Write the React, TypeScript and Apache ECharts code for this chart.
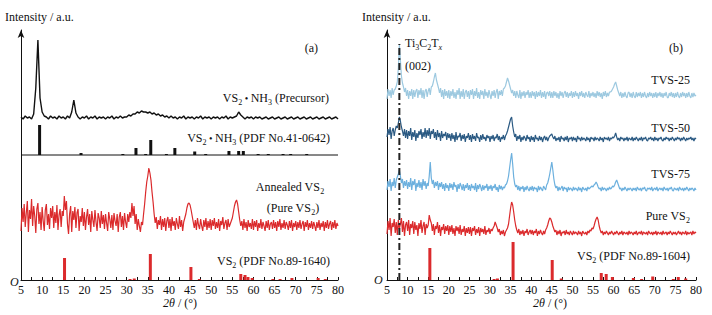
import React, { useEffect, useRef } from "react";
import * as echarts from "echarts";

// ---- data (intensity in a.u., relative to each trace's own baseline) ----
const X_START = 5;
const PRE_STEP = 0.5; // sampling of the precursor trace (2θ, °)
const STEP = 0.25; // sampling of the other traces (2θ, °)
const X_TICKS = [5, 80, 5]; // min, max, interval

// Panel (a)
const PRECURSOR = [
  1, -1, 2, 0, 1, -1, 4, 30, 78, 20,
  6, 2, 1, -1, 2, 0, 1, -1, 2, 0,
  1, -1, 2, 0, 6, 18, 5, 1, -1, 1,
  0, 2, -1, 1, 0, 2, -1, 1, 0, 1,
  -1, 1, 0, 2, -1, 1, 0, 2, 0, 1,
  1, 3, 2, 4, 4, 6, 5, 7, 6, 6,
  5, 6, 4, 5, 3, 4, 2, 3, 1, 2,
  0, 2, 0, 1, -1, 1, 0, 2, -1, 1,
  0, 1, -1, 1, 0, 2, -1, 1, 0, 1,
  -1, 1, 0, 1, -1, 1, 0, 2, -1, 1,
  0, 1, 2, 6, 3, 1, -1, 1, 0, 1,
  -1, 1, 0, 1, -1, 0, 1, -1, 0, 1,
  -1, 0, 1, -1, 0, 1, -1, 0, 1, -1,
  0, 1, -1, 0, 1, -1, 0, 1, -1, 0,
  1, -1, 0, 1, -1, 0, 1, -1, 0, 1,
  -1,
];
const ANNEALED = [
  -3, 20, 6, 24, 1, 15, 27, -4, 18, 9, 29, 2, 22, 12, -5, 19, 25, 4, 16, -2,
  21, 7, -3, 18, 24, 3, 14, -1, 20, 10, 22, 0, 16, 5, 23, -2, 13, 19, 1, 17,
  12, 32, 18, 27, 4, -6, 14, 22, -4, 17, 8, 21, 0, 15, 19, -3, 12, 6, 20, 2,
  16, -2, 11, 19, 3, 14, -4, 17, 8, 1, 18, 6, -3, 15, 10, 0, 17, 4, 13, -1,
  14, 5, -3, 16, 9, 0, 13, -2, 15, 7, 2, 14, -4, 11, 16, 1, 12, -2, 15, 6,
  0, 14, 6, 16, 10, 25, 12, 22, 4, 14, -2, 9, 2, -4, 6, 3, 14, 24, 36, 46,
  52, 60, 55, 48, 36, 26, 14, 5, 11, -1, 8, 3, 12, -2, 9, 1, 10, -3, 7, 11,
  0, 9, -3, 11, 2, 7, -2, 10, 4, -1, 12, 1, 8, -3, 6, 10, 14, 20, 24, 25,
  23, 18, 12, 6, 0, 8, -2, 10, 3, -1, 9, 2, -3, 8, 1, 10, -2, 7, 0, 9,
  -2, 8, 2, 10, -1, 6, 0, 9, -3, 7, 3, 11, -1, 5, 8, -2, 9, 1, 4, 7,
  10, 16, 22, 26, 28, 24, 16, 8, 2, 7, -2, 9, 0, 6, -3, 8, 1, 5, -1, 9,
  -2, 7, 1, 8, -3, 5, 0, 9, -1, 6, 2, -3, 7, 0, 8, -2, 4, 6, -1, 8,
  0, 6, -3, 7, 1, 9, -2, 5, 0, 8, -1, 6, 3, -2, 7, 0, 8, -3, 5, 1,
  7, -2, 6, 0, 8, -1, 4, 7, -3, 6, 1, 8, -2, 5, 0, 7, -1, 6, 2, -3,
  6, 0, 8, -2, 5, 1, 7, -3, 6, 0, 8, -1, 4, 7, -2, 6, 0, 8, -1, 5,
  2,
];
// [2θ, relative intensity]
const PDF_41_0642 = [
  [9.4, 30], [19.2, 2], [29.1, 1], [32.2, 7], [34.5, 1], [35.7, 15], [39.4, 1],
  [41.4, 7], [46.1, 3.5], [48.7, 1], [54.2, 4], [56.5, 4], [57.6, 4], [61.1, 1],
  [63.5, 1], [67, 1], [68.8, 1], [72.6, 1],
];
const PDF_89_1640 = [
  [15.3, 22], [30.8, 1], [31.8, 1.5], [35.6, 26], [45.2, 13], [47.2, 1], [57.0, 6],
  [58.0, 5], [58.7, 3], [59.7, 2], [64.6, 1], [66.3, 1], [69.1, 2], [75.3, 2], [77.0, 1],
];

// Panel (b)
const TVS25 = [
  -3, 7, 0, 6, -2, 8, 1, 6, 7, 10, 14, 28, 51, 36, 20, 13, 9, 4, 8, 0,
  6, -3, 5, 0, 7, -3, 6, -1, 5, 7, -2, 6, 1, 8, -2, 6, -3, 5, 7, -1,
  5, 8, 1, 9, 10, 14, 19, 23, 16, 12, 8, 3, 8, -1, 6, -3, 7, 0, 5, -2,
  6, -3, 5, 0, 7, -2, 4, -3, 6, 1, 8, -3, 5, -1, 7, -3, 4, 6, -1, 5,
  -3, 6, 1, 7, -3, 5, 0, 8, -2, 4, -3, 6, 1, 5, -3, 7, 0, 4, -2, 6,
  1, -3, 5, 0, 6, -2, 4, 7, -3, 5, 1, 6, 0, 7, 8, 10, 14, 18, 15, 11,
  7, 3, 6, 0, 5, -2, 5, 1, -2, 6, -3, 4, 0, 5, -2, 4, 1, 6, -2, 4,
  -2, 5, 0, 4, -3, 5, -1, 4, 0, 6, -2, 4, -1, 5, -3, 3, 4, 0, 5, -2,
  4, -2, 5, 0, 4, -2, 3, -3, 5, 0, 4, -2, 3, 5, -1, 4, -2, 3, 0, 5,
  -2, 4, -1, 5, 0, 3, -3, 4, 0, 5, -1, 3, -2, 4, 1, -1, 5, -2, 3, 0,
  4, -1, 3, -2, 5, 0, 4, -1, 3, -3, 4, 0, 5, -1, 3, 0, 4, 4, 5, 7,
  9, 12, 14, 10, 6, 3, 0, 4, -2, 3, -1, 4, 0, -2, 3, 4, -1, 3, -2, 4,
  0, -2, 4, -1, 3, 0, 4, -2, 3, -1, 4, 0, -2, 3, -1, 4, 0, 3, -2, 3,
  -1, 4, -2, 3, 0, 4, -1, 3, -2, 3, 0, 4, -1, -2, 3, 0, 4, -1, 3, -2,
  3, -1, 4, 0, -2, 3, -1, 4, 0, 3, -2, 3, -1, 4, 0, -2, 3, -1, 3, 0,
  1,
];
const TVS50 = [
  3, 11, 5, 13, 1, 9, 12, 4, 10, 14, 12, 17, 23, 19, 13, 9, 4, 11, 2, 10,
  1, 9, 4, 12, 0, 8, 3, 10, -1, 7, 2, 9, 5, 11, 1, 8, 3, 12, 2, 10,
  4, 12, 1, 9, 6, 11, 2, 8, 0, 10, 3, 7, -1, 9, 2, 6, 4, 8, 0, 7,
  2, 6, -1, 7, 1, 5, -2, 8, 0, 4, 3, 7, -1, 5, 1, 6, -2, 4, 2, 7,
  0, 5, -2, 6, 1, 4, -1, 7, 2, 3, -2, 5, 0, 6, 1, 3, -1, 5, 2, 4,
  -2, 4, 1, 5, -1, 3, 2, 6, 0, 4, -2, 3, 1, 5, 0, 4, 6, 9, 13, 17,
  21, 23, 14, 8, 3, 6, -1, 4, 1, 5, -2, 3, 0, 4, 2, -1, 5, 1, 3, -2,
  4, 0, 3, -2, 5, 1, 2, -1, 4, 0, 3, -2, 2, 4, 0, 3, -1, 2, 4, 5,
  6, 3, 1, 4, -1, 2, 0, 3, -2, 4, 1, 2, -1, 3, 0, 4, -2, 2, 1, 3,
  -1, 3, 0, 2, -2, 4, 1, 2, -1, 3, 0, 2, 1, -1, 3, 0, 2, -2, 3, 1,
  2, -1, 3, 0, 2, 1, -1, 3, 0, 2, -2, 3, 1, 2, 0, 3, -1, 2, 1, 3,
  2, 4, 7, 3, 0, 2, -1, 3, 1, 2, -1, 2, 0, 3, -1, 2, 1, 0, 3, -1,
  2, 0, 3, 1, -1, 2, 0, 3, -1, 2, 1, 3, 0, -1, 2, 1, 3, 0, 2, -1,
  3, 0, 2, -1, 2, 1, 3, 0, -1, 2, 0, 3, 1, 2, -1, 2, 0, 3, 1, -1,
  2, 0, 3, 1, 2, -1, 2, 0, 3, 1, -1, 2, 0, 2, 1, 3, 0, 2, -1, 2,
  1,
];
const TVS75 = [
  0, 9, 3, 11, -1, 8, 4, 12, 2, 10, 13, 16, 20, 14, 7, 11, 2, 9, 4, 10,
  1, 8, 3, 12, 0, 9, 5, 11, -1, 7, 3, 10, 2, 8, 0, 11, 4, 9, 1, 7,
  4, 14, 28, 12, 6, 10, 2, 8, 4, 9, 0, 7, 3, 8, 1, 6, -1, 7, 2, 5,
  -1, 7, 2, 6, 0, 8, 3, 5, -2, 6, 1, 7, 4, 0, 6, -1, 5, 2, 7, 0,
  5, -1, 6, 2, 4, 0, 7, -2, 5, 1, 6, 3, -1, 5, 0, 4, 2, 6, -1, 4,
  1, 5, -1, 4, 2, 6, 0, 3, -2, 5, 1, 4, 0, 3, 2, 5, 6, 9, 14, 22,
  30, 37, 26, 13, 6, 3, 5, 0, 4, -1, 3, 1, 4, -2, 3, 0, 4, 1, -1, 3,
  0, 4, -1, 3, 1, 2, -2, 4, 0, 3, 1, -1, 4, 2, 0, 5, 7, 11, 16, 22,
  28, 20, 11, 5, 2, 4, -1, 3, 0, 2, 4, -1, 3, 1, 2, -2, 3, 0, 2, 1,
  -1, 3, 0, 2, 1, -1, 3, 0, 2, -2, 3, 1, 0, 2, -1, 3, 1, 2, 3, 4,
  3, 5, 6, 8, 6, 3, 1, 2, -1, 3, 0, 2, 1, -1, 2, 0, 3, 1, 2, 4,
  3, 5, 8, 10, 7, 4, 1, 2, -1, 2, 0, 3, 1, -1, 2, 0, 2, 1, -1, 2,
  0, 2, -1, 3, 1, 0, 2, -1, 2, 1, 3, 0, -1, 2, 1, 2, 0, 3, -1, 1,
  2, 0, 3, -1, 1, 2, 0, 2, -1, 3, 1, 0, 2, -1, 2, 1, 3, 0, -1, 2,
  1, 0, 2, -1, 3, 1, 0, 2, -1, 2, 0, 3, 1, -1, 2, 0, 2, 1, -1, 2,
  0,
];
const PURE_VS2 = [
  0, 13, 4, 16, -2, 11, 7, 15, 1, 12, -1, 14, 5, 10, 16, 2, 13, -2, 9, 12,
  3, 14, -1, 10, 6, 13, 0, 12, 4, 9, -2, 11, 5, 14, 1, 8, 12, -1, 10, 6,
  9, 19, 14, 11, 3, 10, -1, 8, 5, 12, 1, 9, -2, 7, 4, 10, 0, 8, 3, 9,
  -1, 8, 2, 9, 0, 6, -2, 8, 3, 7, 0, 9, -1, 5, 2, 8, -2, 6, 1, 7,
  0, 7, -2, 6, 3, 8, -1, 5, 1, 7, -2, 6, 2, 5, 0, 8, -1, 4, 2, 6,
  0, 5, 3, 6, 8, 12, 9, 6, 2, 5, -1, 3, 0, 4, -2, 2, 4, 6, 10, 18,
  26, 32, 29, 22, 14, 8, 4, 1, 5, -1, 3, 0, 4, -2, 3, 1, 5, -1, 2, 4,
  0, 4, -1, 3, 1, 5, -2, 3, 0, 4, 1, -1, 3, 0, 4, 6, 9, 13, 16, 15,
  12, 8, 5, 2, 4, -1, 3, 0, 4, -2, 2, 1, 3, -1, 4, 0, 2, -1, 3, 1,
  -1, 3, 0, 2, 1, -1, 3, 0, 2, -2, 3, 1, 0, 2, -1, 3, 1, 4, 3, 6,
  5, 8, 12, 15, 17, 14, 8, 4, 1, 3, -1, 2, 0, 3, 1, -1, 2, 0, 3, 1,
  -1, 2, 0, 3, 1, -1, 2, 0, 3, -1, 2, 1, 0, 2, -1, 3, 0, 2, 1, -1,
  2, 0, 3, -1, 1, 2, 0, 3, -1, 2, 1, 0, 2, -1, 3, 1, 0, 2, -1, 2,
  0, 3, -1, 2, 1, 0, 2, -1, 3, 0, 1, 2, -1, 2, 0, 3, 1, -1, 2, 0,
  2, -1, 1, 3, 0, 2, -1, 2, 1, 0, 3, -1, 2, 0, 1, 2, -1, 3, 0, 2,
  1,
];
const PDF_89_1604 = [
  [15.4, 32], [31.0, 1], [31.8, 1.5], [35.6, 38], [45.1, 20], [47.3, 1.5], [57.0, 7],
  [58.2, 6], [59.7, 3], [64.8, 2], [66.8, 1], [69.5, 3.5], [74.5, 1], [75.7, 3], [77.5, 1.5],
];
const TI3C2TX_002 = 8; // 2θ of Ti3C2Tx (002)

// vertical stacking offsets (a.u.)
const OFF_A = { precursor: 162, pdfBlack: 125, annealed: 52, pdfRed: 0 };
const OFF_B = { tvs25: 184, tvs50: 140, tvs75: 90, pure: 46, pdf: 0, markTop: 236 };

const FONT = "Liberation Serif, Times New Roman, serif";
const RED = "#db2a2c";
const BLACK = "#111111";
const C25 = "#9dc9e0";
const C50 = "#2b5a83";
const C75 = "#6cb0de";

// ---- text with sub-scripts, laid out piece by piece ----
const SIZE: Record<string, number> = { n: 12, i: 12, s: 8, si: 8, d: 10 };
const DY: Record<string, number> = { n: 0, i: 0, s: 4, si: 4, d: 0 };
const ITALIC: Record<string, boolean> = { i: true, si: true };
let measureCtx: CanvasRenderingContext2D | null = null;
function fontOf(k: string) {
  return `${ITALIC[k] ? "italic " : ""}${SIZE[k]}px ${FONT}`;
}
function measure(t: string, k: string) {
  if (!measureCtx) measureCtx = document.createElement("canvas").getContext("2d");
  measureCtx!.font = fontOf(k);
  return measureCtx!.measureText(t).width;
}
function label(x: number, y: number, parts: [string, string][], align = "right") {
  const widths = parts.map(([t, k]) => measure(t, k));
  const total = widths.reduce((a, b) => a + b, 0);
  let cx = align === "left" ? x : align === "center" ? x - total / 2 : x - total;
  const out: any[] = [];
  parts.forEach(([t, k], i) => {
    const trimmed = t.trim();
    const lead = measure(t.slice(0, t.length - t.trimStart().length), k);
    if (trimmed) {
      out.push({
        type: "text",
        x: cx + lead,
        y: y + DY[k],
        silent: true,
        style: { text: trimmed, font: fontOf(k), fill: BLACK, align: "left", verticalAlign: "middle" },
      });
    }
    cx += widths[i];
  });
  return out;
}

function curve(values: number[], offset: number, color: string, idx: number, step: number, width = 1.2) {
  return {
    type: "line",
    xAxisIndex: idx,
    yAxisIndex: idx,
    data: values.map((v, i) => [X_START + i * step, offset + v]),
    symbol: "none",
    showSymbol: false,
    silent: true,
    lineStyle: { color, width },
  };
}

function sticks(data: number[][], base: number, color: string, idx: number) {
  return {
    type: "custom",
    xAxisIndex: idx,
    yAxisIndex: idx,
    silent: true,
    data,
    renderItem: (_p: any, api: any) => {
      const x = api.value(0);
      const h = api.value(1);
      const p0 = api.coord([x, base]);
      const p1 = api.coord([x, base + h]);
      return {
        type: "rect",
        shape: { x: p0[0] - 1.5, y: p1[1], width: 3, height: Math.max(1, p0[1] - p1[1]) },
        style: { fill: color },
      };
    },
  };
}

function xAxis(idx: number) {
  return {
    type: "value",
    gridIndex: idx,
    min: X_TICKS[0],
    max: X_TICKS[1],
    interval: X_TICKS[2],
    axisLine: { show: true, onZero: false, lineStyle: { color: BLACK, width: 1 } },
    axisTick: { show: true, inside: true, length: 3, lineStyle: { color: BLACK } },
    minorTick: { show: true, splitNumber: 2, length: 3, lineStyle: { color: BLACK } },
    splitLine: { show: false },
    minorSplitLine: { show: false },
    axisLabel: { color: BLACK, fontFamily: FONT, fontSize: 12, margin: 4, showMinLabel: true, showMaxLabel: true },
  };
}

function yAxis(idx: number) {
  return {
    type: "value",
    gridIndex: idx,
    min: 0,
    max: 250,
    axisLine: { show: true, symbol: ["none", "arrow"], symbolSize: [5, 8], lineStyle: { color: BLACK, width: 1 } },
    axisTick: { show: false },
    axisLabel: { show: false },
    splitLine: { show: false },
  };
}

export default function App() {
  const ref = useRef<HTMLDivElement>(null);
  useEffect(() => {
    document.body.style.margin = "0";
    const chart = echarts.init(ref.current!, undefined, { renderer: "svg" });
    const dot: [string, string] = [" \u2022 ", "d"];
    chart.setOption({
      animation: false,
      backgroundColor: "#ffffff",
      grid: [
        { left: 21, right: 374, top: 30, bottom: 35 },
        { left: 387, right: 16, top: 30, bottom: 35 },
      ],
      xAxis: [xAxis(0), xAxis(1)],
      yAxis: [yAxis(0), yAxis(1)],
      series: [
        curve(PRECURSOR, OFF_A.precursor, BLACK, 0, PRE_STEP, 1.4),
        {
          type: "line",
          xAxisIndex: 0,
          yAxisIndex: 0,
          data: [[X_TICKS[0], OFF_A.pdfBlack], [X_TICKS[1], OFF_A.pdfBlack]],
          symbol: "none",
          silent: true,
          lineStyle: { color: BLACK, width: 1 },
        },
        sticks(PDF_41_0642, OFF_A.pdfBlack, BLACK, 0),
        curve(ANNEALED, OFF_A.annealed, RED, 0, STEP),
        sticks(PDF_89_1640, OFF_A.pdfRed, RED, 0),

        curve(TVS25, OFF_B.tvs25, C25, 1, STEP),
        curve(TVS50, OFF_B.tvs50, C50, 1, STEP),
        curve(TVS75, OFF_B.tvs75, C75, 1, STEP),
        curve(PURE_VS2, OFF_B.pure, RED, 1, STEP),
        sticks(PDF_89_1604, OFF_B.pdf, RED, 1),
        {
          type: "line",
          xAxisIndex: 1,
          yAxisIndex: 1,
          data: [[TI3C2TX_002, 0], [TI3C2TX_002, OFF_B.markTop]],
          symbol: "none",
          silent: true,
          z: 5,
          lineStyle: { color: "#222222", width: 2, type: [7, 3, 2, 3] },
        },
      ],
      graphic: [
        ...label(5, 17, [["Intensity / a.u.", "n"]], "left"),
        ...label(362, 17, [["Intensity / a.u.", "n"]], "left"),
        ...label(10, 282, [["O", "i"]], "left"),
        ...label(374, 280, [["O", "i"]], "left"),
        ...label(180, 303, [["2θ", "i"], [" / (°)", "n"]], "center"),
        ...label(550, 303, [["2θ", "i"], [" / (°)", "n"]], "center"),
        ...label(318, 48, [["(a)", "n"]]),
        ...label(329, 98, [["VS", "n"], ["2", "s"], dot, ["NH", "n"], ["3", "s"], [" (Precursor)", "n"]]),
        ...label(330, 138, [["VS", "n"], ["2", "s"], dot, ["NH", "n"], ["3", "s"], [" (PDF No.41-0642)", "n"]]),
        ...label(290, 187, [["Annealed VS", "n"], ["2", "s"]], "center"),
        ...label(293, 208, [["(Pure VS", "n"], ["2", "s"], [")", "n"]], "center"),
        ...label(330, 261, [["VS", "n"], ["2", "s"], [" (PDF No.89-1640)", "n"]]),
        ...label(683, 48, [["(b)", "n"]]),
        ...label(405, 43, [["Ti", "n"], ["3", "s"], ["C", "n"], ["2", "s"], ["T", "n"], ["x", "si"]], "left"),
        ...label(405, 66, [["(002)", "n"]], "left"),
        ...label(690, 80, [["TVS-25", "n"]]),
        ...label(690, 128, [["TVS-50", "n"]]),
        ...label(690, 174, [["TVS-75", "n"]]),
        ...label(690, 216, [["Pure VS", "n"], ["2", "s"]]),
        ...label(690, 256, [["VS", "n"], ["2", "s"], [" (PDF No.89-1604)", "n"]]),
      ],
    });
    return () => chart.dispose();
  }, []);
  return <div ref={ref} style={{ width: 712, height: 315 }} />;
}
